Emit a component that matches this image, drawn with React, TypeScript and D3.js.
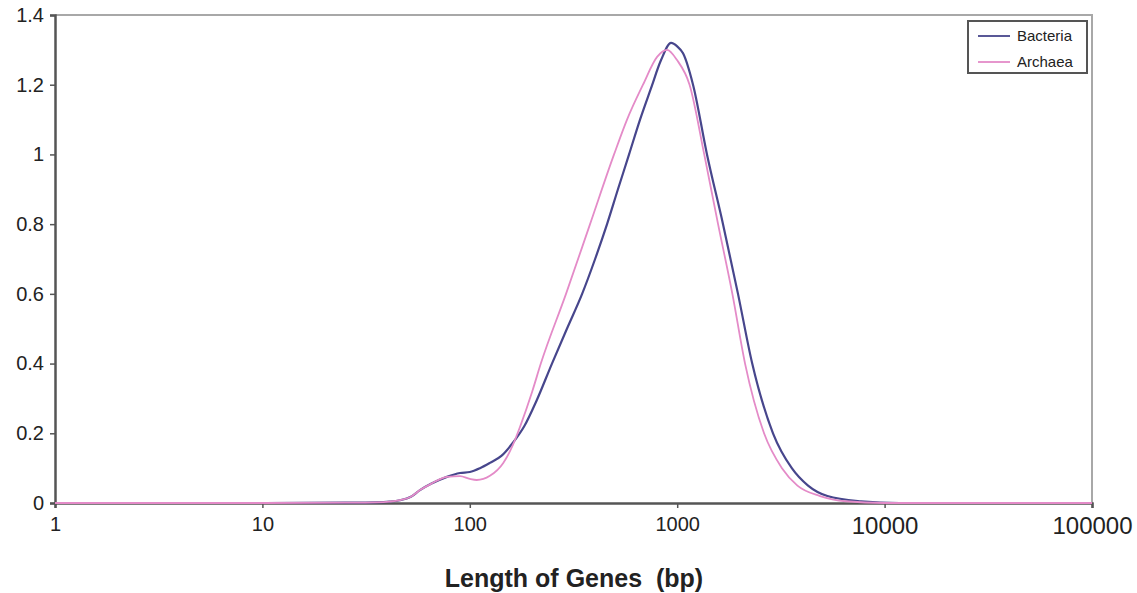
import React, { useEffect, useRef } from 'react';
import * as d3 from 'd3';

// gene length (bp) / density
const bacteriaLength = [1, 10, 25, 35, 41, 46, 52, 57.5, 65, 77.6, 89.7, 100, 112, 125, 142, 161, 183, 210, 249, 294, 348, 402, 459, 518, 586, 662, 748, 835, 934, 1000, 1067, 1192, 1392, 1663, 1964, 2300, 2897, 3570, 4275, 5300, 7700, 11800, 100000];
const bacteriaDensity = [0, 0, 0.001, 0.002, 0.004, 0.008, 0.018, 0.037, 0.055, 0.075, 0.086, 0.089, 0.1, 0.115, 0.135, 0.172, 0.22, 0.294, 0.4, 0.5, 0.6, 0.7, 0.8, 0.9, 1.0, 1.1, 1.19, 1.27, 1.32, 1.31, 1.29, 1.2, 1.0, 0.8, 0.6, 0.4, 0.2, 0.1, 0.05, 0.02, 0.005, 0, 0];

const archaeaLength = [1, 10, 25, 35, 41, 46, 52, 57.5, 65, 77.6, 89.7, 100, 108, 125, 145, 161, 175, 200, 220, 291, 380, 496, 573, 684, 800, 893, 1000, 1147, 1350, 1574, 1845, 2124, 2623, 3200, 3800, 4885, 6500, 10000, 100000];
const archaeaDensity = [0, 0, 0.001, 0.002, 0.004, 0.008, 0.018, 0.037, 0.055, 0.075, 0.077, 0.069, 0.066, 0.078, 0.115, 0.165, 0.22, 0.32, 0.4, 0.6, 0.8, 1.0, 1.1, 1.2, 1.28, 1.3, 1.27, 1.2, 1.0, 0.8, 0.6, 0.4, 0.2, 0.1, 0.05, 0.02, 0.005, 0, 0];

const xTicks = [1, 10, 100, 1000, 10000, 100000];
const yTicks = [0, 0.2, 0.4, 0.6, 0.8, 1, 1.2, 1.4];
const seriesNames = ['Bacteria', 'Archaea'];
const seriesColors = ['#47468c', '#e48bc8'];

const App = () => {
  const svgRef = useRef<SVGSVGElement>(null);
  const width = 1137;
  const height = 593;
  const margin = { top: 15, right: 45, bottom: 90, left: 55 };

  useEffect(() => {
    const svg = d3.select(svgRef.current);
    svg.selectAll('*').remove();

    const x = d3.scaleLog().domain([1, 100000]).range([margin.left, width - margin.right]);
    const y = d3.scaleLinear().domain([0, 1.4]).range([height - margin.bottom, margin.top]);
    const font = 'Arial, "Liberation Sans", sans-serif';

    // frame (top and right in light grey)
    svg.append('path')
      .attr('d', `M${x(1)},${y(1.4)}H${x(100000)}V${y(0)}`)
      .attr('fill', 'none')
      .attr('stroke', '#a8a8a8')
      .attr('stroke-width', 2);

    // y axis
    const yAxis = svg.append('g')
      .attr('transform', `translate(${x(1)},0)`)
      .call(d3.axisLeft(y).tickValues(yTicks).tickSize(5).tickPadding(6).tickFormat(d => String(+(+d).toFixed(1))));
    yAxis.select('.domain').attr('stroke', '#555').attr('stroke-width', 2.5);
    yAxis.selectAll('.tick line').attr('stroke', '#555').attr('stroke-width', 1.5);
    yAxis.selectAll('.tick text')
      .attr('font-family', font)
      .attr('font-size', 20)
      .attr('fill', '#222');

    // x axis
    const xAxis = svg.append('g')
      .attr('transform', `translate(0,${y(0)})`)
      .call(d3.axisBottom(x).tickValues(xTicks).tickSize(5).tickPadding(9).tickFormat(d => String(d)));
    xAxis.select('.domain').attr('stroke', '#555').attr('stroke-width', 2.5);
    xAxis.selectAll('.tick line').attr('stroke', '#555').attr('stroke-width', 1.5);
    xAxis.selectAll('.tick text')
      .attr('font-family', font)
      .attr('font-size', (d: any) => (d >= 10000 ? 24 : 20))
      .attr('fill', '#222');

    const line = d3.line<[number, number]>()
      .x(d => x(d[0]))
      .y(d => y(d[1]))
      .curve(d3.curveMonotoneX);

    const series = [
      d3.zip(bacteriaLength, bacteriaDensity) as [number, number][],
      d3.zip(archaeaLength, archaeaDensity) as [number, number][]
    ];

    series.forEach((pts, i) => {
      svg.append('path')
        .datum(pts)
        .attr('fill', 'none')
        .attr('stroke', seriesColors[i])
        .attr('stroke-width', i === 0 ? 2.2 : 1.8)
        .attr('d', line);
    });

    // axis title
    svg.append('text')
      .attr('x', 574)
      .attr('y', 587)
      .attr('text-anchor', 'middle')
      .attr('font-family', font)
      .attr('font-weight', 'bold')
      .attr('font-size', 25)
      .attr('fill', '#222')
      .attr('xml:space', 'preserve')
      .text('Length of Genes  (bp)');

    // legend
    const legend = svg.append('g').attr('transform', 'translate(968,21)');
    legend.append('rect')
      .attr('width', 119)
      .attr('height', 52)
      .attr('fill', '#fff')
      .attr('stroke', '#555')
      .attr('stroke-width', 2);

    seriesNames.forEach((name, i) => {
      const row = legend.append('g').attr('transform', `translate(0,${15 + i * 26})`);
      row.append('line')
        .attr('x1', 10)
        .attr('x2', 42)
        .attr('stroke', seriesColors[i])
        .attr('stroke-width', 1.8);
      row.append('text')
        .attr('x', 49)
        .attr('dy', '0.35em')
        .attr('font-family', font)
        .attr('font-size', 15)
        .attr('fill', '#222')
        .text(name);
    });
  }, []);

  return (
    <div style={{ position: 'absolute', left: 0, top: 0, background: '#fff' }}>
      <svg ref={svgRef} width={width} height={height} style={{ display: 'block' }} />
    </div>
  );
};

export default App;
